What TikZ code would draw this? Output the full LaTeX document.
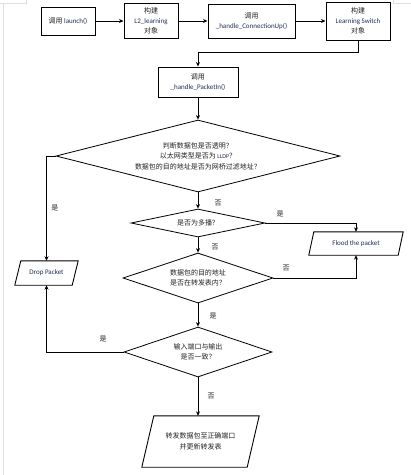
\documentclass[tikz,border=0pt]{standalone}
\usepackage{fontspec}
\setmainfont{Carlito}
\newfontfamily\cjk{Noto Sans CJK SC}
\usetikzlibrary{shapes.geometric,arrows.meta}
\definecolor{latin}{RGB}{31,45,90}
\definecolor{txt}{RGB}{34,34,34}
\newcommand{\lt}[1]{\textcolor{latin}{#1}}
\begin{document}
\begin{tikzpicture}[x=1pt,y=-1pt,
  every node/.style={text=txt},
  box/.style={draw, line width=1pt, align=center, inner sep=0pt, font=\cjk\fontsize{7}{10}\selectfont},
  dia/.style={draw, diamond, line width=0.8pt, inner sep=0pt, align=center, font=\cjk\fontsize{7}{10.5}\selectfont},
  pbox/.style={inner sep=0pt, align=center, font=\cjk\fontsize{7}{11}\selectfont},
  arr/.style={-{Stealth[length=4.5pt,width=4pt]}, line width=0.8pt},
  lbl/.style={inner sep=0pt, font=\cjk\fontsize{7}{9}\selectfont},
  pline/.style={line width=0.9pt}]
\useasboundingbox (0,0) rectangle (411,475);
% page border marks
\draw[gray!25, line width=0.6pt] (3,3) -- (3,475);
\draw[gray!25, line width=0.6pt] (0,3) -- (26,3) -- (26,0);
\draw[gray!25, line width=0.6pt] (393,0) -- (393,3) -- (411,3);

% top row
\node[box, minimum width=54pt, minimum height=28pt] (b1) at (68,21) {调用 {\fontspec{Carlito}\lt{launch()}}};
\node[box, minimum width=54pt, minimum height=35pt] (b2) at (151,21) {构建\\{\fontspec{Carlito}\lt{L2\_learning}}\\对象};
\node[box, minimum width=87pt, minimum height=34pt] (b3) at (251.5,21) {调用\\{\fontspec{Carlito}\lt{\_handle\_ConnectionUp()}}};
\node[box, minimum width=64pt, minimum height=38pt] (b4) at (358,21) {构建\\{\fontspec{Carlito}\lt{Learning Switch}}\\对象};
\node[box, minimum width=80pt, minimum height=30pt] (b5) at (198,82) {调用\\{\fontspec{Carlito}\lt{\_handle\_PacketIn()}}};

% diamonds
\node[dia, aspect=3.94, minimum width=284pt, minimum height=72pt] (d1) at (198,156) {判断数据包是否透明？\\以太网类型是否为 {\fontspec{Carlito}\lt{\fontsize{6}{10.5}\selectfont LLDP}}？\\数据包的目的地址是否为网桥过滤地址？};
\node[dia, aspect=4.8, minimum width=134pt, minimum height=28pt] (d2) at (198,223) {是否为多播？};
\node[dia, aspect=3, minimum width=150pt, minimum height=50pt] (d3) at (198,278) {数据包的目的地址\\是否在转发表内？};
\node[dia, aspect=2.96, minimum width=148pt, minimum height=50pt] (d4) at (198,352) {输入端口与输出\\是否一致？};

% parallelograms (text nodes + outlines)
\node[pbox, minimum width=63pt, minimum height=24pt] (drop) at (46.5,273) {{\fontspec{Carlito}\lt{Drop Packet}}};
\node[pbox, minimum width=94pt, minimum height=23pt] (flood) at (356,243.5) {{\fontspec{Carlito}\lt{Flood the packet}}};
\node[pbox, minimum width=117pt, minimum height=51pt] (fin) at (200.5,441.5) {转发数据包至正确端口\\并更新转发表};
\draw[pline] ([xshift=6pt]drop.north west) -- (drop.north east) -- ([xshift=-6pt]drop.south east) -- (drop.south west) -- cycle;
\draw[pline] ([xshift=5pt]flood.north west) -- (flood.north east) -- ([xshift=-5pt]flood.south east) -- (flood.south west) -- cycle;
\draw[pline] ([xshift=12pt]fin.north west) -- (fin.north east) -- ([xshift=-12pt]fin.south east) -- (fin.south west) -- cycle;

% connectors
\draw[arr] (b1.east) -- (b2.west);
\draw[arr] (b2.east) -- (b3.west);
\draw[arr] (b3.east) -- (b4.west);
\draw[arr] (b4.south) -- ++(0,12) -| (b5.north);
\draw[arr] (b5.south) -- (d1.north);
\draw[arr] (d1.west) -| (drop.north);
\draw[arr] (d1.south) -- (d2.north);
\draw[arr] (d2.east) -| (flood.north);
\draw[arr] (d2.south) -- (d3.north);
\draw[arr] (d3.east) -| (flood.south);
\draw[arr] (d3.south) -- (d4.north);
\draw[arr] (d4.west) -| (drop.south);
\draw[arr] (d4.south) -- (d4.south |- fin.north);

% labels
\node[lbl] (l1) at (55,208) {是};
\node[lbl] (l2) at (218,203) {否};
\node[lbl] (l3) at (280,214) {是};
\node[lbl] (l4) at (215,247) {否};
\node[lbl] (l5) at (286,268) {否};
\node[lbl] (l6) at (213,316) {是};
\node[lbl] (l7) at (103,339) {是};
\node[lbl] (l8) at (211,396) {否};
\end{tikzpicture}
\end{document}
